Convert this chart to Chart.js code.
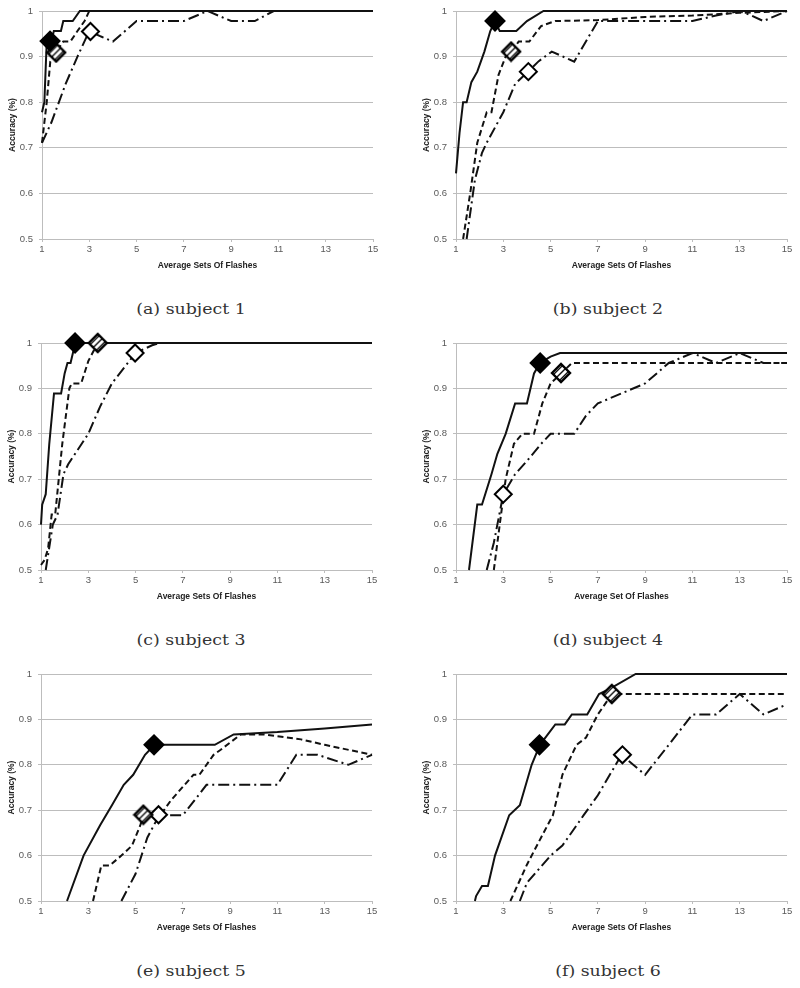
<!DOCTYPE html>
<html>
<head>
<meta charset="utf-8">
<script src="https://cdn.jsdelivr.net/npm/chart.js@4.4.1/dist/chart.umd.min.js"></script>
<style>
  body { margin: 0; background: #fff; width: 800px; height: 988px; position: relative; overflow: hidden; }
  .panel { position: absolute; }
  .caption { position: absolute; width: 300px; text-align: center; line-height: 20px;
             font-family: "DejaVu Serif", "Liberation Serif", serif; font-size: 14px; color: #333;
             transform: scaleX(1.24); }
</style>
</head>
<body>
<script>
// tick values shared by all panels
const xTickValues = [1, 3, 5, 7, 9, 11, 13, 15];
const yTickValues = [0.5, 0.6, 0.7, 0.8, 0.9, 1];

const captions = ['(a) subject 1', '(b) subject 2', '(c) subject 3', '(d) subject 4', '(e) subject 5', '(f) subject 6'];
const xTitles = ['Average Sets Of Flashes', 'Average Sets Of Flashes', 'Average Sets Of Flashes',
                 'Average Set Of Flashes', 'Average Sets Of Flashes', 'Average Sets Of Flashes'];
const yTitle = 'Accuracy (%)';

// subject 1
const s1Solid   = [[1,0.778],[1.1,0.8],[1.2,0.933],[1.4,0.933],[1.5,0.956],[1.8,0.956],[1.9,0.978],[2.3,0.978],[2.6,1],[15,1]];
const s1Dashed  = [[1,0.711],[1.2,0.8],[1.35,0.889],[1.6,0.911],[1.9,0.933],[2.2,0.933],[2.5,0.956],[2.8,0.978],[3,1],[15,1]];
const s1DashDot = [[1,0.711],[1.4,0.756],[2,0.84],[2.5,0.9],[3,0.956],[3.5,0.944],[4,0.933],[5,0.978],[7,0.978],[8,1],[9,0.978],[10,0.978],[10.8,1],[15,1]];
const s1Marks   = [[1.34,0.934],[1.6,0.909],[3.05,0.955]];

// subject 2
const s2Solid   = [[1,0.644],[1.15,0.733],[1.3,0.8],[1.45,0.8],[1.65,0.844],[1.9,0.867],[2.2,0.911],[2.45,0.956],[2.65,0.978],[2.85,0.956],[3.55,0.956],[4,0.978],[4.7,1],[15,1]];
const s2Dashed  = [[1.3,0.5],[1.6,0.6],[1.9,0.711],[2.3,0.778],[2.5,0.778],[2.8,0.86],[3.1,0.9],[3.35,0.911],[3.65,0.933],[4.1,0.933],[4.6,0.967],[5.2,0.978],[7,0.98],[9,0.987],[11,0.99],[12,0.993],[13,0.996],[15,1]];
const s2DashDot = [[1.45,0.5],[1.8,0.63],[2.1,0.689],[2.3,0.711],[3,0.778],[3.5,0.84],[4.05,0.867],[4.5,0.89],[5.05,0.911],[6,0.889],[7,0.978],[11,0.978],[12,0.99],[13,1],[13.5,0.99],[14,0.978],[15,1]];
const s2Marks   = [[2.65,0.978],[3.33,0.911],[4.06,0.867]];

// subject 3
const s3Solid   = [[1,0.6],[1.05,0.644],[1.2,0.667],[1.35,0.778],[1.55,0.889],[1.85,0.889],[2,0.933],[2.12,0.956],[2.25,0.956],[2.45,1],[15,1]];
const s3Dashed  = [[1,0.511],[1.15,0.522],[1.3,0.547],[1.45,0.622],[1.6,0.622],[1.9,0.778],[2.2,0.9],[2.3,0.911],[2.7,0.911],[3,0.96],[3.4,1],[15,1]];
const s3DashDot = [[1.2,0.5],[1.5,0.6],[1.7,0.622],[1.95,0.711],[2.15,0.733],[3,0.8],[3.5,0.86],[4,0.911],[5,0.978],[5.7,0.995],[6,1],[15,1]];
const s3Marks   = [[2.44,1],[3.4,1],[4.98,0.978]];

// subject 4
const s4Solid   = [[1.55,0.5],[1.9,0.644],[2.1,0.644],[2.5,0.711],[2.75,0.756],[3.1,0.8],[3.5,0.867],[4,0.867],[4.3,0.933],[4.55,0.956],[5,0.97],[5.4,0.978],[15,0.978]];
const s4Dashed  = [[2.6,0.5],[2.85,0.6],[3.1,0.7],[3.45,0.778],[3.8,0.8],[4.3,0.8],[4.65,0.867],[5,0.911],[5.45,0.933],[5.9,0.956],[15,0.956]];
const s4DashDot = [[2.3,0.5],[2.6,0.56],[3,0.667],[3.5,0.711],[4,0.74],[4.6,0.778],[5,0.8],[6,0.8],[6.5,0.84],[7,0.867],[8,0.889],[9,0.911],[10,0.956],[11,0.978],[12,0.956],[13,0.978],[14,0.956],[15,0.956]];
const s4Marks   = [[4.56,0.956],[5.44,0.934],[3,0.667]];

// subject 5
const s5Solid   = [[2.1,0.5],[2.8,0.6],[3.5,0.667],[4,0.711],[4.5,0.756],[4.9,0.778],[5.4,0.822],[5.8,0.844],[8.35,0.844],[9.15,0.867],[11,0.872],[13,0.88],[15,0.889]];
const s5Dashed  = [[3.2,0.5],[3.55,0.578],[3.9,0.578],[4.4,0.6],[4.85,0.622],[5.2,0.667],[5.35,0.689],[6.2,0.7],[6.5,0.722],[7.45,0.778],[7.7,0.778],[8.3,0.822],[8.6,0.833],[9.45,0.867],[10.4,0.867],[12,0.856],[13,0.844],[15,0.822]];
const s5DashDot = [[4.4,0.5],[5,0.56],[5.5,0.64],[6,0.689],[7,0.689],[7.5,0.722],[8,0.756],[11,0.756],[11.8,0.822],[12.7,0.822],[14,0.8],[15,0.822]];
const s5Marks   = [[5.78,0.844],[5.33,0.69],[5.97,0.69]];

// subject 6
const s6Solid   = [[1.8,0.5],[1.85,0.511],[2.1,0.533],[2.35,0.533],[2.65,0.6],[3.25,0.689],[3.7,0.711],[4.2,0.8],[4.55,0.844],[5.2,0.889],[5.6,0.889],[5.9,0.911],[6.55,0.911],[7.05,0.956],[7.5,0.967],[8.6,1],[15,1]];
const s6Dashed  = [[3.3,0.5],[4,0.58],[4.6,0.64],[5.1,0.689],[5.5,0.778],[6.1,0.844],[6.5,0.86],[7,0.911],[7.6,0.956],[15,0.956]];
const s6DashDot = [[3.7,0.5],[4,0.54],[5,0.6],[5.5,0.622],[6.4,0.689],[7,0.733],[8,0.822],[9,0.778],[10,0.844],[11,0.911],[12,0.911],[13,0.956],[14,0.911],[15,0.933]];
const s6Marks   = [[4.53,0.844],[7.59,0.956],[8.04,0.822]];

const subjects = [
    [s1Solid, s1Dashed, s1DashDot, s1Marks],
    [s2Solid, s2Dashed, s2DashDot, s2Marks],
    [s3Solid, s3Dashed, s3DashDot, s3Marks],
    [s4Solid, s4Dashed, s4DashDot, s4Marks],
    [s5Solid, s5Dashed, s5DashDot, s5Marks],
    [s6Solid, s6Dashed, s6DashDot, s6Marks],
];

// plot area boxes on the page: left, top, right, bottom
const plotBoxes = [
    [42, 11, 373, 239], [456, 11, 787, 239],
    [41, 343, 372, 570], [456, 343, 787, 570],
    [41, 674, 372, 901], [456, 674, 787, 901],
];
const captionCenters = [191, 608];

const Y_W = 43, X_H = 37, PAD_T = 12, PAD_R = 14;
const INK = '#111';
const GRID = '#bdbdbd';

function hatchedDiamond(r) {
    const c = document.createElement('canvas');
    const s = 2 * r + 4;
    c.width = c.height = s;
    const g = c.getContext('2d');
    const m = s / 2;
    const path = () => {
        g.beginPath();
        g.moveTo(m - r, m); g.lineTo(m, m - r); g.lineTo(m + r, m); g.lineTo(m, m + r);
        g.closePath();
    };
    path();
    g.fillStyle = '#fff';
    g.fill();
    g.save();
    g.clip();
    g.strokeStyle = INK;
    g.lineWidth = 1.4;
    for (let k = -1; k <= 1; k++) {
        const o = k * 3;
        g.beginPath();
        g.moveTo(m + o - r, m + o + r);
        g.lineTo(m + o + r, m + o - r);
        g.stroke();
    }
    g.restore();
    path();
    g.lineWidth = 2.4;
    g.strokeStyle = '#000';
    g.stroke();
    return c;
}
const hatchImg = hatchedDiamond(9);

const toXY = arr => arr.map(p => ({ x: p[0], y: p[1] }));

function lineSet(data, dash) {
    return {
        type: 'line',
        data: toXY(data),
        borderColor: INK,
        borderWidth: 2,
        borderDash: dash,
        pointRadius: 0,
        fill: false,
        tension: 0,
        clip: false,
        order: 2,
    };
}

function markSet(pt, style) {
    return {
        type: 'scatter',
        data: toXY([pt]),
        pointStyle: style.pointStyle,
        pointRadius: style.radius,
        backgroundColor: style.fill,
        borderColor: '#000',
        borderWidth: 2,
        clip: false,
        order: 1,
    };
}

subjects.forEach((subj, i) => {
    const [solid, dashed, dashDot, marks] = subj;
    const [x0, y0, x1, y1] = plotBoxes[i];

    const box = document.createElement('div');
    box.className = 'panel';
    box.style.left = (x0 - Y_W) + 'px';
    box.style.top = (y0 - PAD_T) + 'px';
    box.style.width = (x1 - x0 + Y_W + PAD_R) + 'px';
    box.style.height = (y1 - y0 + PAD_T + X_H) + 'px';
    const cv = document.createElement('canvas');
    box.appendChild(cv);
    document.body.appendChild(box);

    const cap = document.createElement('div');
    cap.className = 'caption';
    cap.textContent = captions[i];
    cap.style.left = (captionCenters[i % 2] - 150) + 'px';
    cap.style.top = (y1 + 70 - 10) + 'px';
    document.body.appendChild(cap);

    new Chart(cv.getContext('2d'), {
        type: 'line',
        data: {
            datasets: [
                markSet(marks[0], { pointStyle: 'rectRot', radius: 9.5, fill: '#000' }),
                markSet(marks[1], { pointStyle: hatchImg, radius: 9, fill: '#fff' }),
                markSet(marks[2], { pointStyle: 'rectRot', radius: 8.5, fill: '#fff' }),
                lineSet(solid, []),
                lineSet(dashed, [6, 3.5]),
                lineSet(dashDot, [11, 4, 2, 4]),
            ]
        },
        options: {
            responsive: true,
            maintainAspectRatio: false,
            animation: false,
            devicePixelRatio: 1,
            layout: { padding: { top: PAD_T, right: PAD_R, left: 0, bottom: 0 } },
            plugins: { legend: { display: false }, tooltip: { enabled: false } },
            scales: {
                x: {
                    type: 'linear',
                    min: 1,
                    max: 15,
                    afterBuildTicks: s => { s.ticks = xTickValues.map(v => ({ value: v })); },
                    afterFit: s => { s.height = X_H; },
                    ticks: {
                        color: '#595959',
                        padding: 2,
                        font: { family: 'Liberation Sans', size: 9.5 },
                        callback: v => String(v),
                    },
                    grid: { drawOnChartArea: false, drawTicks: true, tickLength: 3, color: GRID },
                    border: { display: true, color: GRID, width: 1 },
                    title: {
                        display: true,
                        text: xTitles[i],
                        color: '#222',
                        font: { family: 'Liberation Sans', size: 8.5, weight: 'bold' },
                        padding: { top: 0, bottom: 5 },
                    },
                },
                y: {
                    type: 'linear',
                    min: 0.5,
                    max: 1,
                    afterBuildTicks: s => { s.ticks = yTickValues.map(v => ({ value: v })); },
                    afterFit: s => { s.width = Y_W; },
                    ticks: {
                        color: '#595959',
                        padding: 6,
                        font: { family: 'Liberation Sans', size: 9.5 },
                        callback: v => (v === 1 ? '1' : v.toFixed(1)),
                    },
                    grid: { color: GRID, tickLength: 3, lineWidth: 1 },
                    border: { display: true, color: GRID, width: 1 },
                    title: {
                        display: true,
                        text: yTitle,
                        color: '#222',
                        font: { family: 'Liberation Sans', size: 8.5, weight: 'bold' },
                        padding: { top: 9, bottom: 0 },
                    },
                },
            },
        },
    });
});
</script>
</body>
</html>
